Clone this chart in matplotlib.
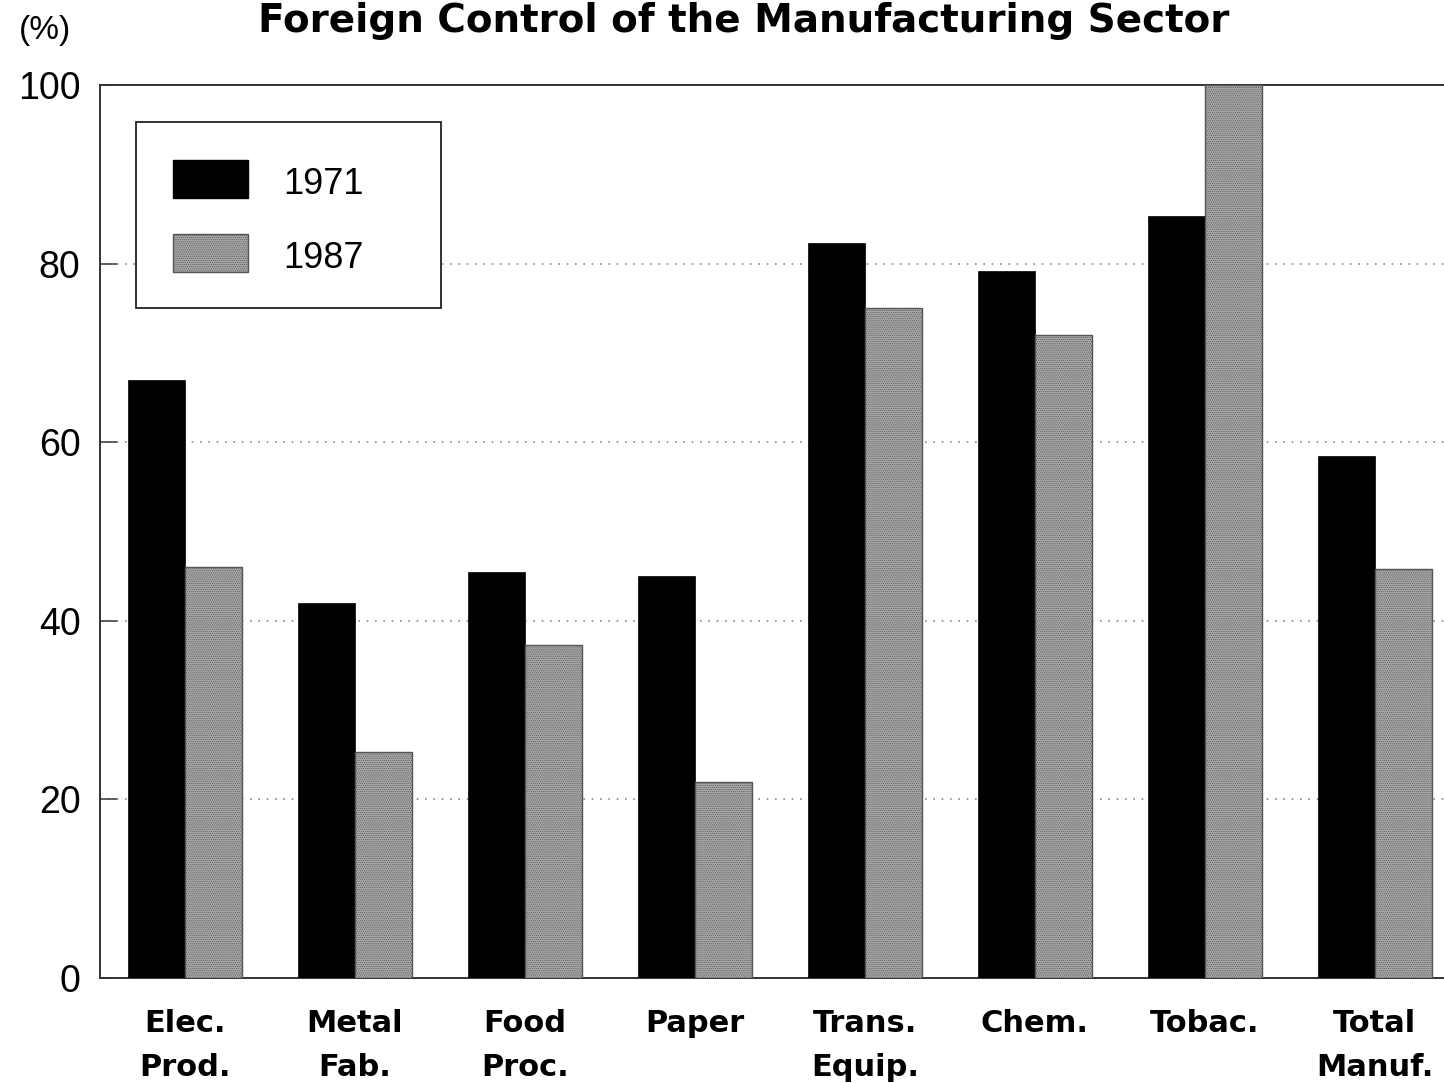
import numpy as np
import matplotlib.pyplot as plt
from matplotlib.patches import Rectangle

# Foreign control (%) by manufacturing industry
industries = ['Elec.\nProd.', 'Metal\nFab.', 'Food\nProc.', 'Paper',
              'Trans.\nEquip.', 'Chem.', 'Tobac.', 'Total\nManuf.']
control_1971 = [67, 42, 45.5, 45, 82.3, 79.2, 85.3, 58.5]
control_1987 = [46, 25.3, 37.3, 22, 75, 72, 100, 45.8]
years = ['1971', '1987']
y_ticks = [0, 20, 40, 60, 80, 100]

num_font = 'Liberation Sans'
word_font = 'DejaVu Sans'
gray = '#a9a9a9'
plt.rcParams['hatch.color'] = '#888888'
plt.rcParams['hatch.linewidth'] = 0.5

fig = plt.figure(figsize=(14.44, 10.83), dpi=100)
fig.patch.set_facecolor('white')
ax = fig.add_axes([100 / 1444, 1 - 978 / 1083, 1360 / 1444, 893 / 1083])

x = np.arange(len(industries))
w = 0.335
ax.bar(x - w / 2, control_1971, w, color='black', edgecolor='black',
       linewidth=0.5, zorder=3)
ax.bar(x + w / 2, control_1987, w, color=gray, edgecolor='#555555',
       linewidth=1.0, hatch='........', zorder=3)

ax.set_xlim(-0.5, 7.5)
ax.set_ylim(0, 100)

# dotted grid behind the bars
for v in y_ticks[1:-1]:
    ax.axhline(v, color='#8a8a8a', linewidth=1.2, linestyle=(0, (1, 4)), zorder=1)

for side in ['left', 'top', 'bottom', 'right']:
    ax.spines[side].set_linewidth(1.4)
    ax.spines[side].set_color('#333333')

ax.set_yticks(y_ticks)
ax.set_yticklabels([str(v) for v in y_ticks], fontsize=27, family=num_font)
ax.tick_params(axis='y', direction='in', length=12, width=1.2, pad=14,
               color='#444444')
ax.set_xticks(x)
ax.set_xticklabels(industries, fontsize=22, family=word_font,
                   linespacing=1.65, fontweight='bold')
ax.tick_params(axis='x', length=0, pad=22)

# legend box
lx0, ly0 = (136 - 100) / 1360, (978 - 308) / 893
lw, lh = (441 - 136) / 1360, (308 - 122) / 893
ax.add_patch(Rectangle((lx0, ly0), lw, lh, transform=ax.transAxes,
                       facecolor='white', edgecolor='#222222', linewidth=1.3,
                       zorder=5))
for i, (yr, fc, ec, ht) in enumerate(zip(years, ['black', gray],
                                          ['black', '#555555'], [None, '........'])):
    top = 160 + i * 74
    ax.add_patch(Rectangle(((173 - 100) / 1360, (978 - top - 38) / 893),
                           75 / 1360, 38 / 893, transform=ax.transAxes,
                           facecolor=fc, edgecolor=ec, hatch=ht,
                           linewidth=1.0, zorder=6))
    ax.text((283 - 100) / 1360, (978 - top - 25) / 893, yr,
            transform=ax.transAxes, fontsize=26, family=num_font,
            va='center', ha='left', zorder=7)

fig.text(744 / 1444, 1 - 32 / 1083, 'Foreign Control of the Manufacturing Sector',
         fontsize=28, family=word_font, fontweight='bold',
         ha='center', va='baseline')
fig.text(45 / 1444, 1 - 30 / 1083, '(%)', fontsize=24, family=num_font,
         ha='center', va='center')

fig.savefig('out.png', dpi=100, facecolor='white')
